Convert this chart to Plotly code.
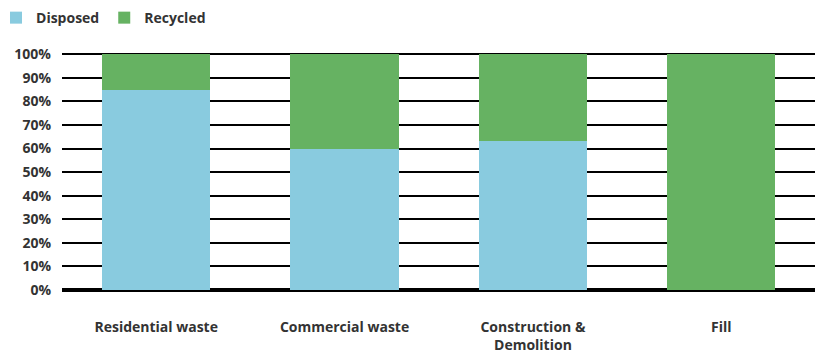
import plotly.graph_objects as go

categories = ["Residential waste", "Commercial waste", "Construction &<br>Demolition", "Fill"]
disposed = [85, 60, 63, 0]
recycled = [15, 40, 37, 100]

BLUE = "#89CBDF"
GREEN = "#66B262"
TXT = "#333333"
FONT = "Open Sans"

fig = go.Figure()
fig.add_trace(go.Bar(x=categories, y=disposed, name="Disposed", marker=dict(color=BLUE, line=dict(width=0))))
fig.add_trace(go.Bar(x=categories, y=recycled, name="Recycled", marker=dict(color=GREEN, line=dict(width=0))))

fig.update_layout(
    width=815, height=348,
    barmode="stack", bargap=0.425,
    plot_bgcolor="white", paper_bgcolor="white",
    margin=dict(l=54, r=0, t=45, b=66, autoexpand=False),
    font=dict(family=FONT, size=14, color=TXT, weight="bold"),
    legend=dict(orientation="h", xref="paper", yref="paper", x=-0.0867, y=1.215,
                xanchor="left", yanchor="top", font=dict(size=14, color=TXT, weight="bold"),
                itemwidth=30, traceorder="normal"),
    xaxis=dict(range=[-0.5, 3.54], showgrid=False, showline=False, ticks="",
               ticklabelstandoff=27, tickfont=dict(size=14, color=TXT, weight="bold")),
    yaxis=dict(range=[0, 100.5], dtick=10, ticksuffix="%", showgrid=True, gridcolor="black", gridwidth=2,
               zeroline=True, zerolinecolor="black", zerolinewidth=4, showline=False,
               ticklabelstandoff=10, tickfont=dict(size=14, color=TXT, weight="bold")),
)

fig.write_html("out.html")
